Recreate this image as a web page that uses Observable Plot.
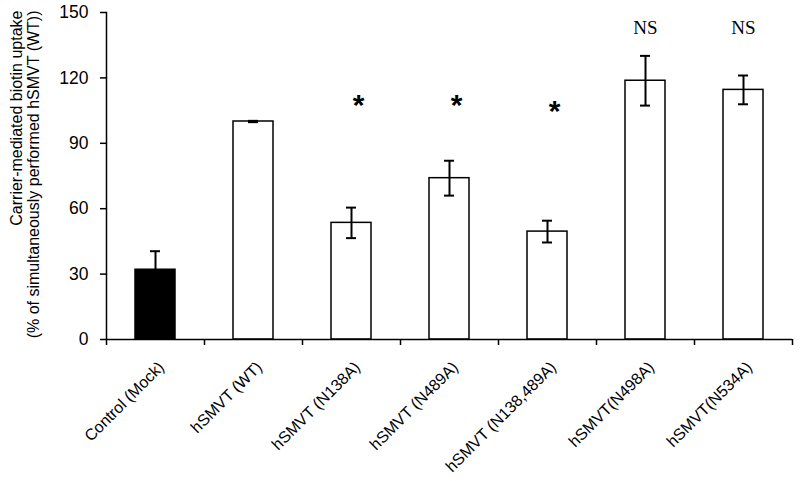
<!DOCTYPE html>
<html>
<head>
<meta charset="utf-8">
<script src="https://cdn.jsdelivr.net/npm/d3@7"></script>
<script src="https://cdn.jsdelivr.net/npm/@observablehq/plot@0.6"></script>
<style>
  html, body { margin: 0; padding: 0; background: #fff; }
  svg { display: block; }
</style>
</head>
<body>
<div id="chart"></div>
<script>
const categories = ["Control (Mock)", "hSMVT (WT)", "hSMVT (N138A)", "hSMVT (N489A)", "hSMVT (N138,489A)", "hSMVT(N498A)", "hSMVT(N534A)"];
const values = [32, 100, 53.5, 74, 49.5, 118.7, 114.5];
const errors = [8.5, 0.3, 7, 8, 5, 11.4, 6.6];
const marks = ["", "", "*", "*", "*", "NS", "NS"];
const markLevels = [null, null, 107.5, 107.5, 104.5, 143, 143];
const yTicks = [0, 30, 60, 90, 120, 150];
const yTitle = "Carrier-mediated biotin uptake\n(% of simultaneously performed hSMVT (WT))";

const W = 800, H = 481;
const mL = 106, mR = 8, mT = 12, mB = 142;
const step = (W - mL - mR) / categories.length;

const data = categories.map((c, i) => ({category: c, value: values[i], err: errors[i]}));
const stars = categories.map((c, i) => ({category: c, label: marks[i], y: markLevels[i]})).filter(d => d.label === "*");
const ns = categories.map((c, i) => ({category: c, label: marks[i], y: markLevels[i]})).filter(d => d.label === "NS");

const chart = Plot.plot({
  width: W, height: H,
  marginLeft: mL, marginRight: mR, marginTop: mT, marginBottom: mB,
  style: {fontFamily: "'Liberation Sans', Arial, sans-serif", color: "black", background: "white"},
  x: {type: "band", domain: categories, padding: 0, label: null},
  y: {domain: [0, 150], label: null},
  marks: [
    Plot.barY(data, {x: "category", y: "value", fill: d => d.category === "Control (Mock)" ? "black" : "white", stroke: "black", strokeWidth: 1.5, insetLeft: 29, insetRight: 29}),
    Plot.ruleX(data, {x: "category", y1: d => d.value - d.err, y2: d => d.value + d.err, stroke: "black", strokeWidth: 2}),
    Plot.tickY(data, {x: "category", y: d => d.value + d.err, stroke: "black", strokeWidth: 2, insetLeft: 44, insetRight: 44}),
    Plot.tickY(data, {x: "category", y: d => d.value - d.err, stroke: "black", strokeWidth: 2, insetLeft: 44, insetRight: 44}),
    Plot.text(stars, {x: "category", y: "y", text: "label", fontSize: 30, fontWeight: "bold", fill: "black", dx: 7, lineAnchor: "middle"}),
    Plot.text(ns, {x: "category", y: "y", text: "label", fontSize: 19, fontFamily: "'Liberation Serif', 'Times New Roman', serif", fill: "black", lineAnchor: "middle"}),
    Plot.ruleY([0], {stroke: "black", strokeWidth: 1.5}),
    Plot.frame({anchor: "left", stroke: "black", strokeWidth: 1.5}),
    Plot.axisY({ticks: yTicks, tickSize: 6, tickPadding: 12, fontSize: 17.5, label: null, stroke: "black", strokeWidth: 1.5}),
    Plot.axisX({tickSize: 6, tickFormat: () => "", dx: -step / 2, label: null, strokeWidth: 1.5}),
    Plot.axisX({ticks: categories.slice(-1), tickSize: 6, tickFormat: () => "", dx: step / 2, label: null, strokeWidth: 1.5}),
    Plot.axisX({tickSize: 0, tickRotate: -45, tickPadding: 25, fontSize: 16, dx: 6, label: null}),
    Plot.text([yTitle], {frameAnchor: "top-left", text: d => d, rotate: -90, textAnchor: "end", lineAnchor: "top", fontSize: 16, lineHeight: 1.05, dx: -96, dy: -2, fill: "black"})
  ]
});
document.getElementById("chart").append(chart);
</script>
</body>
</html>
